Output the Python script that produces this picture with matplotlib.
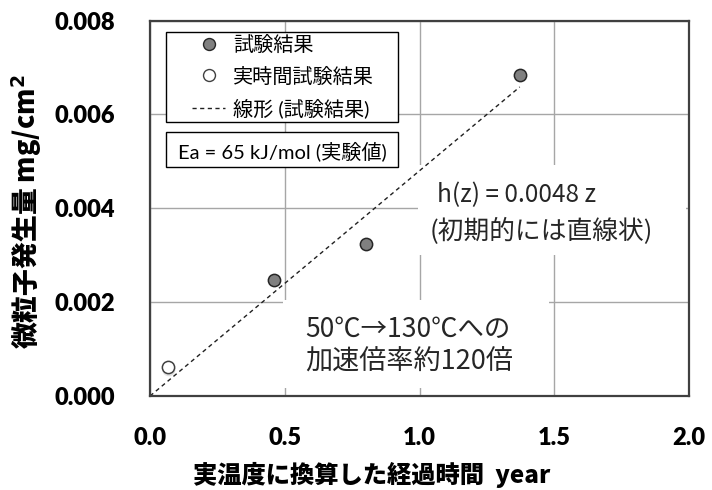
import matplotlib
matplotlib.use("Agg")
import matplotlib.pyplot as plt
from matplotlib.lines import Line2D
from matplotlib.patches import Rectangle
import numpy as np

plt.rcParams['font.family'] = ['Lato', 'Noto Sans CJK JP', 'DejaVu Sans']

# accelerated test results (converted to real-temperature years)
test_x = [0.461, 0.803, 1.372]
test_y = [0.00247, 0.00323, 0.00683]
# real-time test result
real_x = [0.065]
real_y = [0.00062]
# linear trend through origin
slope = 0.0048

xticks = [0.0, 0.5, 1.0, 1.5, 2.0]
yticks = [0.000, 0.002, 0.004, 0.006, 0.008]

fig = plt.figure(figsize=(7.12, 4.90), dpi=100)
ax = fig.add_axes([0.2107, 0.1918, 0.7570, 0.7662])

ax.set_xlim(0, 2.0)
ax.set_ylim(0, 0.008)
ax.set_xticks(xticks)
ax.set_yticks(yticks)
ax.set_xticklabels([f"{v:.1f}" for v in xticks], fontsize=17, fontweight='heavy')
ax.set_yticklabels([f"{v:.3f}" for v in yticks], fontsize=17, fontweight='heavy')
ax.tick_params(axis='x', length=0, pad=22)
ax.tick_params(axis='y', length=0, pad=25)
ax.grid(True, color='#a6a6a6', linewidth=1.0, zorder=0)
ax.set_axisbelow(True)
for sp in ax.spines.values():
    sp.set_color('#404040')
    sp.set_linewidth(1.6)
    sp.set_zorder(7)

dash = (0, (3, 2.5))
xl = np.array([0.0, max(test_x)])
ax.plot(xl, slope * xl, linestyle=dash, color='#202020', linewidth=1.0, zorder=3)
ax.scatter(test_x, test_y, s=78, facecolor='#808080', edgecolor='#262626',
           linewidth=1.1, zorder=4)
ax.scatter([x + 0.005 for x in real_x], [y - 0.00006 for y in real_y], s=90,
           facecolor='#cfcfcf', edgecolor='none', zorder=3, alpha=0.6)
ax.scatter(real_x, real_y, s=78, facecolor='white', edgecolor='#404040',
           linewidth=1.1, zorder=4)

# legend frame and entries
ax.add_patch(Rectangle((0.0297, 0.730), 0.430, 0.239, transform=ax.transAxes,
                       facecolor='white', edgecolor='black', linewidth=1.0, zorder=5))
handles = [
    Line2D([], [], linestyle='none', marker='o', markersize=8.6,
           markerfacecolor='#808080', markeredgecolor='#262626'),
    Line2D([], [], linestyle='none', marker='o', markersize=8.6,
           markerfacecolor='white', markeredgecolor='#404040'),
    Line2D([], [], linestyle=dash, color='#202020', linewidth=1.0),
]
labels = ['試験結果', '実時間試験結果', '線形 (試験結果)']
leg = ax.legend(handles, labels, loc='upper left', bbox_to_anchor=(0.078, 0.962),
                frameon=False, prop={'family': ['Lato', 'Noto Sans CJK JP'], 'size': 14.5},
                handlelength=1.65, handletextpad=0.4, borderpad=0,
                labelspacing=0.62, borderaxespad=0)
leg.set_zorder(6)

# activation energy box
ax.add_patch(Rectangle((0.0297, 0.610), 0.430, 0.093, transform=ax.transAxes,
                       facecolor='white', edgecolor='black', linewidth=1.0, zorder=5))
ax.text(0.052, 0.652, 'Ea = 65 kJ/mol (実験値)', transform=ax.transAxes,
        fontsize=14.5, family=['Lato', 'Noto Sans CJK JP'], va='center', ha='left',
        zorder=6)

# annotation: fitted line
ax.add_patch(Rectangle((0.497, 0.375), 0.497, 0.240, transform=ax.transAxes,
                       facecolor='white', edgecolor='none', zorder=2))
ax.text(0.532, 0.535, 'h(z) = 0.0048 z', transform=ax.transAxes,
        fontsize=17.5, family=['Noto Sans CJK JP'], va='center', ha='left',
        color='#262626', zorder=5)
ax.text(0.519, 0.439, '(初期的には直線状)', transform=ax.transAxes,
        fontsize=18.5, family=['Noto Sans CJK JP'], va='center', ha='left',
        color='#262626', zorder=5)

# annotation: acceleration factor
ax.add_patch(Rectangle((0.247, 0.021), 0.493, 0.235, transform=ax.transAxes,
                       facecolor='white', edgecolor='none', zorder=2))
ax.text(0.288, 0.176, '50℃→130℃への', transform=ax.transAxes,
        fontsize=19, family=['Noto Sans CJK JP'], va='center', ha='left',
        color='#262626', zorder=5)
ax.text(0.288, 0.0905, '加速倍率約120倍', transform=ax.transAxes,
        fontsize=19.5, family=['Noto Sans CJK JP'], va='center', ha='left',
        color='#262626', zorder=5)

ax.set_xlabel('実温度に換算した経過時間  year', fontsize=17.5, fontweight='heavy',
              family=['Noto Sans CJK JP'], va='center')
ax.xaxis.set_label_coords(0.412, -0.21)
ax.set_ylabel('微粒子発生量 mg/cm$^\\mathbf{2}$', fontsize=19.3, fontweight='heavy',
              family=['Noto Sans CJK JP'], va='center')
ax.yaxis.set_label_coords(-0.228, 0.49)

fig.savefig('out.png', dpi=100)
